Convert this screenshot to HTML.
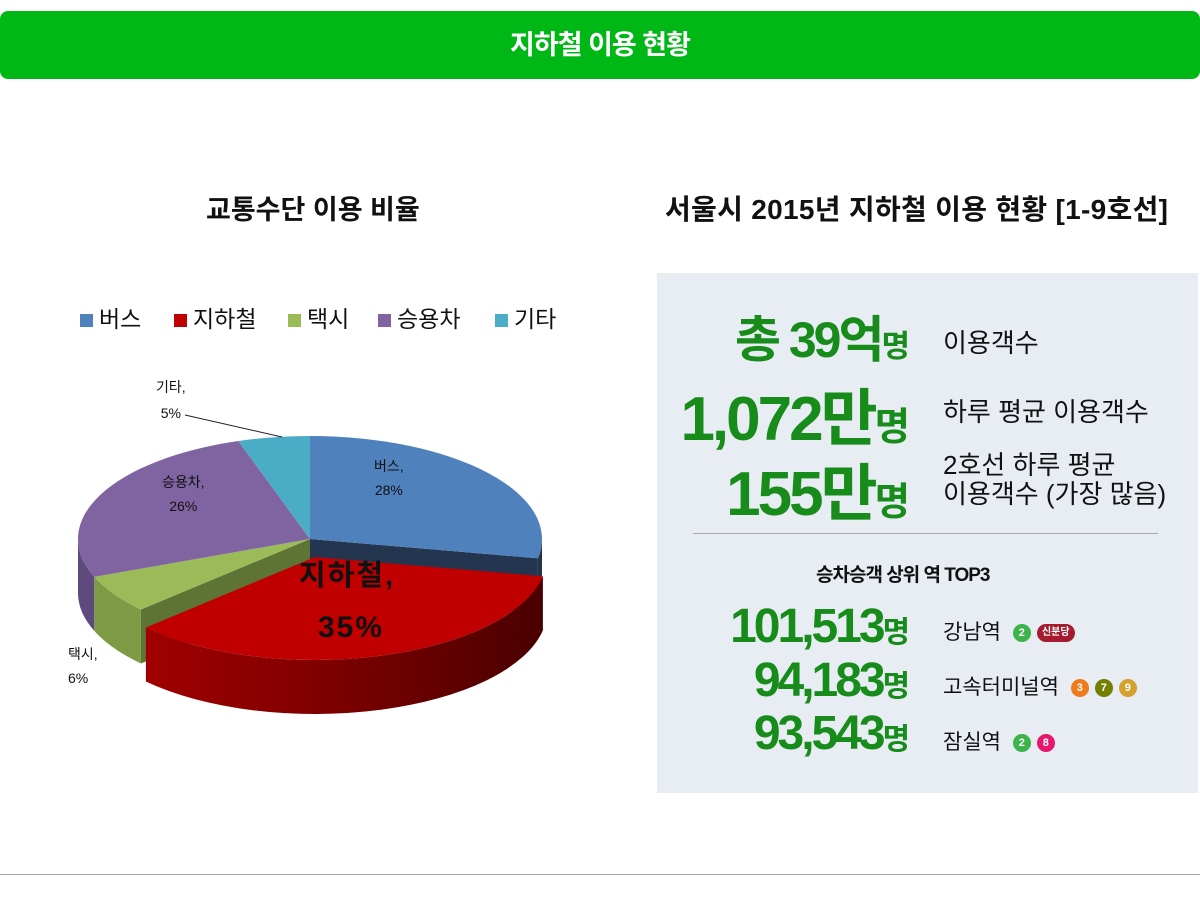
<!DOCTYPE html>
<html><head><meta charset="utf-8"><style>
body{margin:0;width:1200px;height:898px;background:#fff;position:relative;overflow:hidden;font-family:"Liberation Sans","Noto Sans CJK KR",sans-serif;}
.a{position:absolute;white-space:nowrap;}
.hdr{left:0;top:11px;width:1200px;height:68px;background:#00b815;border-radius:8px;color:#fff;font-weight:bold;font-size:27px;text-align:center;line-height:68px;letter-spacing:-1px}
.t{font-weight:bold;font-size:27px;color:#111;}
.panel{left:657px;top:273px;width:541px;height:520px;background:#e8edf4}
.g{color:#178c1a;font-weight:bold;text-align:right;right:290px;letter-spacing:-3px}
.g span{font-size:0.62em;letter-spacing:0}
.l{left:943px;color:#111;}
.dot{display:inline-block;width:18px;height:18px;border-radius:9px;color:#fff;font-size:11px;font-weight:bold;text-align:center;line-height:18px;vertical-align:middle;margin-left:6px;letter-spacing:0}
.lg{position:absolute;top:312px;font-size:23px;color:#111;line-height:14px}
.lg i{display:inline-block;width:13px;height:13px;margin-right:6px}
</style></head><body>
<div class="a hdr">지하철 이용 현황</div>
<div class="a t" style="left:206px;top:188px">교통수단 이용 비율</div>
<div class="a t" style="left:665px;top:188px;font-size:28px;letter-spacing:0.3px">서울시 2015년 지하철 이용 현황 [1-9호선]</div>

<div class="a lg" style="left:80px"><i style="background:#4f81bd"></i>버스</div>
<div class="a lg" style="left:174px"><i style="background:#c00000"></i>지하철</div>
<div class="a lg" style="left:288px"><i style="background:#9bbb59"></i>택시</div>
<div class="a lg" style="left:378px"><i style="background:#8064a2"></i>승용차</div>
<div class="a lg" style="left:495px"><i style="background:#4bacc6"></i>기타</div>

<svg class="a" style="left:0;top:0" width="660" height="898" id="pie">
<defs><linearGradient id="rg" x1="0" x2="1" y1="0" y2="0"><stop offset="0" stop-color="#a00000"/><stop offset="0.5" stop-color="#7a0000"/><stop offset="1" stop-color="#4a0000"/></linearGradient></defs>
</svg>
<div class="a" style="left:156px;top:374px;font-size:14px;color:#111;text-align:center;line-height:26px">기타,<br>5%</div>
<svg class="a" style="left:0;top:0" width="400" height="450"><line x1="185" y1="415" x2="282" y2="437" stroke="#222" stroke-width="1"/></svg>
<div class="a" style="left:374px;top:454px;font-size:14px;color:#111;text-align:center;line-height:24px">버스,<br>28%</div>
<div class="a" style="left:162px;top:470px;font-size:14px;color:#111;text-align:center;line-height:24px">승용차,<br>26%</div>
<div class="a" style="left:68px;top:642px;font-size:14px;color:#111;line-height:24px">택시,<br>6%</div>
<div class="a" style="left:299px;top:548px;font-size:29px;color:#111;line-height:56px;letter-spacing:2px;font-weight:bold">지하철,</div>
<div class="a" style="left:318px;top:600px;font-size:30px;color:#111;line-height:56px;font-weight:bold;letter-spacing:2px">35%</div>

<div class="a panel"></div>
<div class="a g" style="top:300px;font-size:50px">총 39억<span>명</span></div>
<div class="a l" style="top:323px;font-size:26px">이용객수</div>
<div class="a g" style="top:368px;font-size:62px">1,072만<span>명</span></div>
<div class="a l" style="top:392px;font-size:26px">하루 평균 이용객수</div>
<div class="a g" style="top:443px;font-size:62px">155만<span>명</span></div>
<div class="a l" style="top:451px;font-size:26px;line-height:29px">2호선 하루 평균<br>이용객수 (가장 많음)</div>
<div class="a" style="left:693px;top:533px;width:465px;height:1px;background:#aaa"></div>
<div class="a" style="left:816px;top:560px;font-size:19px;color:#111;font-weight:bold;letter-spacing:-1px">승차승객 상위 역 TOP3</div>
<div class="a g" style="top:599px;font-size:48px">101,513<span>명</span></div>
<div class="a l" style="top:616px;font-size:21px">강남역 <span class="dot" style="background:#3cb44b">2</span><span class="dot" style="background:#a51c30;width:38px;font-size:10px">신분당</span></div>
<div class="a g" style="top:653px;font-size:48px">94,183<span>명</span></div>
<div class="a l" style="top:671px;font-size:21px">고속터미널역 <span class="dot" style="background:#ef7c1c">3</span><span class="dot" style="background:#747f00">7</span><span class="dot" style="background:#d4a12e">9</span></div>
<div class="a g" style="top:706px;font-size:48px">93,543<span>명</span></div>
<div class="a l" style="top:726px;font-size:21px">잠실역 <span class="dot" style="background:#3cb44b">2</span><span class="dot" style="background:#e6186c">8</span></div>

<div class="a" style="left:0;top:874px;width:1200px;height:1px;background:#aaa"></div>
<script>
(function(){
var svg=document.getElementById('pie'),cx=310,cy=539,rx=232,ry=103,D=54;
function P(a,dx,dy,d){a=a*Math.PI/180;return [(cx+dx+rx*Math.sin(a)).toFixed(1),(cy+dy+d-ry*Math.cos(a)).toFixed(1)];}
function add(d,f){var p=document.createElementNS('http://www.w3.org/2000/svg','path');p.setAttribute('d',d);p.setAttribute('fill',f);svg.appendChild(p);}
var S=[[0,100.8,'#4f81bd','#23354f',0,0],[100.8,226.8,'#c00000','url(#rg)',5,18],[226.8,248.4,'#9bbb59','#7d9a45',0,0],[248.4,342,'#8064a2','#5f4a7d',0,0],[342,360,'#4bacc6','#357f94',0,0]];
function side(s){var a=Math.max(s[0],90),b=Math.min(s[1],270);if(a>=b)return;var p1=P(a,s[4],s[5],0),p2=P(b,s[4],s[5],0),q2=P(b,s[4],s[5],D),q1=P(a,s[4],s[5],D);
add('M'+p1+' A'+rx+' '+ry+' 0 0 1 '+p2+' L'+q2+' A'+rx+' '+ry+' 0 0 0 '+q1+' Z',s[3]);}
function cut(s,ang,col){var c=[(cx+s[4]).toFixed(1),(cy+s[5]).toFixed(1)];var p=P(ang,s[4],s[5],0);var c2=[c[0],(+c[1]+D).toFixed(1)],p2=[p[0],(+p[1]+D).toFixed(1)];add('M'+c+' L'+p+' L'+p2+' L'+c2+' Z',col||s[3]);}
function face(s){var c=[(cx+s[4]).toFixed(1),(cy+s[5]).toFixed(1)],p1=P(s[0],s[4],s[5],0),p2=P(s[1],s[4],s[5],0),lg=(s[1]-s[0])>180?1:0;
add('M'+c+' L'+p1+' A'+rx+' '+ry+' 0 '+lg+' 1 '+p2+' Z',s[2]);}
cut(S[0],100.8);cut(S[2],226.8,'#5e7434');
[S[3],S[2],S[0]].forEach(side);
[S[0],S[2],S[3],S[4]].forEach(face);
side(S[1]);face(S[1]);
})();
</script>
</body></html>
